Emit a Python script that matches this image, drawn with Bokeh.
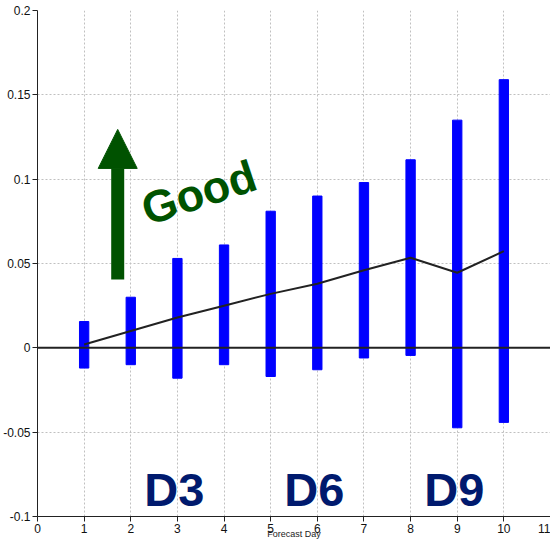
from bokeh.plotting import figure
from bokeh.models import Range1d, FixedTicker, Span, Arrow, NormalHead
from bokeh.core.properties import value
from bokeh.embed import file_html
from bokeh.resources import INLINE

# data
days = [1, 2, 3, 4, 5, 6, 7, 8, 9, 10]
upper = [0.0156, 0.030, 0.053, 0.061, 0.081, 0.090, 0.098, 0.1115, 0.135, 0.159]
lower = [-0.012, -0.010, -0.018, -0.010, -0.017, -0.013, -0.006, -0.0045, -0.0474, -0.0442]
mean_line = [0.002, 0.010, 0.018, 0.025, 0.032, 0.038, 0.046, 0.0534, 0.0445, 0.0573]
x_ticks = [0, 1, 2, 3, 4, 5, 6, 7, 8, 9, 10, 11]
y_ticks = [-0.1, -0.05, 0, 0.05, 0.1, 0.15, 0.2]
y_tick_labels = ["-0.1", "-0.05", "0", "0.05", "0.1", "0.15", "0.2"]
d_labels = ["D3", "D6", "D9"]
d_pos = [3, 6, 9]

FONT = "Liberation Sans"

p = figure(width=550, height=541, output_backend="svg", toolbar_location=None,
           x_range=Range1d(0, 11), y_range=Range1d(-0.1, 0.2),
           min_border_left=0, min_border_right=0, min_border_top=10, min_border_bottom=0)
p.outline_line_color = None
p.background_fill_color = "white"
p.border_fill_color = "white"

for ax in (p.xaxis[0], p.yaxis[0]):
    ax.axis_line_color = "#222222"
    ax.major_tick_line_color = "#222222"
    ax.major_tick_out = 5
    ax.major_tick_in = 0
    ax.minor_tick_out = 0
    ax.minor_tick_in = 0
    ax.major_label_text_font = FONT
    ax.major_label_text_font_size = "12px"
    ax.major_label_text_color = "#111111"
    ax.major_label_standoff = 2

p.xaxis.ticker = FixedTicker(ticks=x_ticks)
p.yaxis.ticker = FixedTicker(ticks=y_ticks)
p.yaxis.major_label_overrides = {t: l for t, l in zip(y_ticks, y_tick_labels)}
p.xaxis.axis_label = "Forecast Day"
p.xaxis.axis_label_text_font = FONT
p.xaxis.axis_label_text_font_style = "normal"
p.xaxis.axis_label_text_font_size = "9px"
p.xaxis.axis_label_text_color = "#222222"
p.xaxis.axis_label_standoff = -7

p.xgrid.grid_line_color = "#c0c0c0"
p.xgrid.grid_line_dash = "2 2"
p.ygrid.grid_line_color = "#c0c0c0"
p.ygrid.grid_line_dash = "2 2"

# bars
p.vbar(x=days, top=upper, bottom=lower, width=0.2, fill_color="#0000ff", line_color="#0000ff")

# zero line
p.add_layout(Span(location=0, dimension="width", line_color="#222222", line_width=2))

# mean line
p.line(days, mean_line, line_color="#222222", line_width=2)

# arrow
p.add_layout(Arrow(end=NormalHead(size=39, fill_color="#005200", line_color="#005200"),
                   x_start=1.72, y_start=0.0405, x_end=1.72, y_end=0.1295,
                   line_color="#005200", line_width=13))

p.text(x=[3.46], y=[0.092], text=["Good"], angle=0.32, text_align="center",
       text_baseline="middle", text_font=value(FONT), text_font_style="bold",
       text_font_size="45px", text_color="#005200")

p.text(x=d_pos, y=[-0.0838] * 3, text=d_labels, text_align="center",
       text_baseline="middle", text_font=value(FONT), text_font_style="bold",
       text_font_size="47px", text_color="#001a6e", x_offset=-3)

open("out.html", "w").write(file_html(p, INLINE))
